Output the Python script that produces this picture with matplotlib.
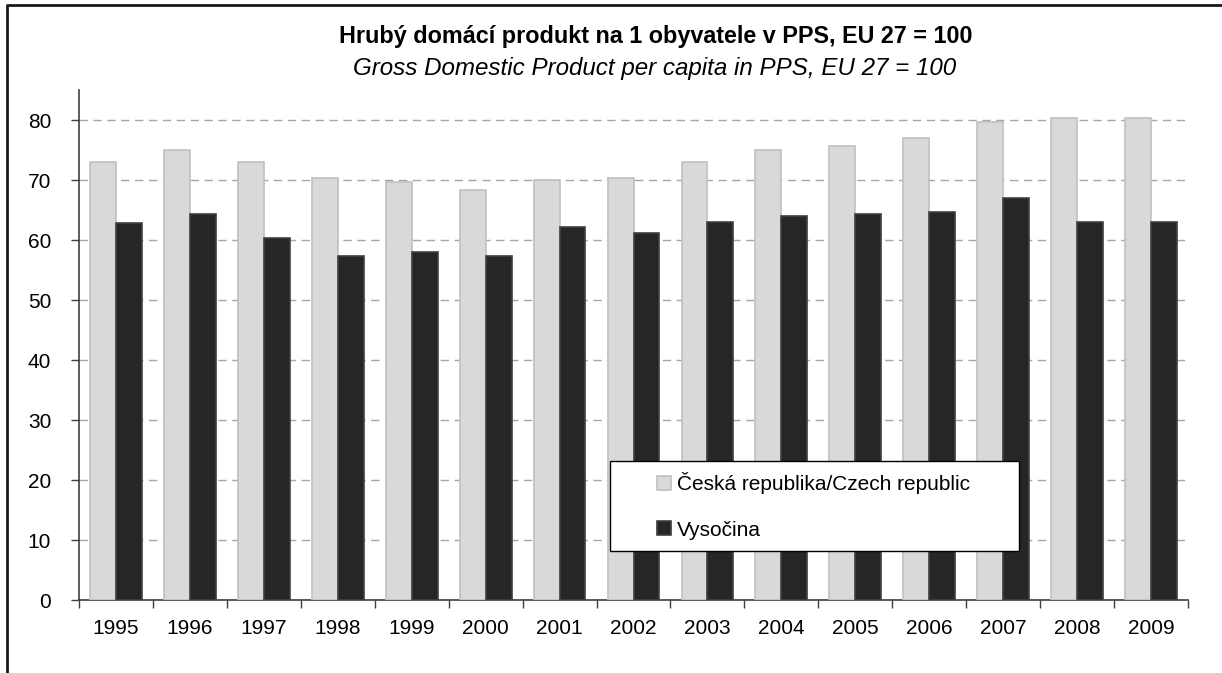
import matplotlib
matplotlib.use("Agg")
import matplotlib.pyplot as plt
import numpy as np
from matplotlib.lines import Line2D
from matplotlib.patches import Rectangle
from matplotlib.legend_handler import HandlerPatch

plt.rcParams['font.family'] = ['Liberation Sans', 'DejaVu Sans']

years = ["1995", "1996", "1997", "1998", "1999", "2000", "2001", "2002",
         "2003", "2004", "2005", "2006", "2007", "2008", "2009"]
cz = [73.0, 75.0, 73.0, 70.3, 69.7, 68.3, 70.0, 70.3, 73.0, 75.0, 75.7, 77.0, 79.7, 80.4, 80.4]
vys = [62.8, 64.4, 60.4, 57.4, 58.0, 57.4, 62.1, 61.1, 63.0, 64.0, 64.4, 64.7, 67.0, 63.0, 63.0]
label_cz = "Česká republika/Czech republic"
label_vys = "Vysočina"
title = "Hrubý domácí produkt na 1 obyvatele v PPS, EU 27 = 100"
subtitle = "Gross Domestic Product per capita in PPS, EU 27 = 100"

W, H = 1222, 673
fig = plt.figure(figsize=(W / 100, H / 100), dpi=100)
ax = fig.add_axes([79 / W, 1 - 600 / H, (1188 - 79) / W, (600 - 90) / H])

x = np.arange(len(years))
bw = 0.35
b1 = ax.bar(x - bw / 2, cz, bw, color="#d9d9d9", edgecolor="#c0c0c0", linewidth=1.2,
            label=label_cz, zorder=3)
b2 = ax.bar(x + bw / 2, vys, bw, color="#262626", edgecolor="#404040", linewidth=1.2,
            label=label_vys, zorder=3)

ax.set_xlim(-0.5, len(years) - 0.5)
ax.set_ylim(0, 85)
ax.set_yticks(range(0, 81, 10))
ax.yaxis.grid(True, linestyle=(0, (6, 4)), color="#a6a6a6", linewidth=1.0, zorder=0)
ax.set_xticks(x)
ax.set_xticklabels(years)
ax.set_xticks(np.arange(-0.5, len(years), 1), minor=True)
ax.tick_params(axis="x", which="major", length=0, pad=14, labelsize=15)
ax.tick_params(axis="x", which="minor", length=6, width=1, color="#404040")
ax.tick_params(axis="y", length=6, width=1, color="#404040", pad=14, labelsize=15)
for s in ["top", "right"]:
    ax.spines[s].set_visible(False)
for s in ["left", "bottom"]:
    ax.spines[s].set_color("#404040")
    ax.spines[s].set_linewidth(1.2)


def square(legend, orig_handle, xdescent, ydescent, width, height, fontsize):
    s = 14 * 72 / 100
    return Rectangle((-xdescent + width - s, -ydescent + (height - s) / 2), s, s)


fs = 15
leg = ax.legend(handles=[b1.patches[0], b2.patches[0]], labels=[label_cz, label_vys],
                loc="upper left",
                bbox_to_anchor=((610 - 79) / (1188 - 79), (600 - 461) / (600 - 90),
                                (1019 - 610) / (1188 - 79), 0),
                mode="expand", fontsize=fs, frameon=True, fancybox=False,
                edgecolor="#000000", framealpha=1, handlelength=2.38, handleheight=0.75,
                handletextpad=0.29, labelspacing=1.25, borderpad=0.55, borderaxespad=0,
                handler_map={Rectangle: HandlerPatch(patch_func=square)})
leg.get_frame().set_linewidth(1.0)
leg.set_zorder(5)

fig.text(656 / W, 1 - 43 / H, title, ha="center", va="baseline", fontsize=16.8, fontweight="bold")
fig.text(655 / W, 1 - 75 / H, subtitle, ha="center", va="baseline", fontsize=17.4, style="italic")

fig.add_artist(Line2D([7 / W, 7 / W, 1.0], [0.0, 1 - 5 / H, 1 - 5 / H],
                      transform=fig.transFigure, color="#1a1a1a", linewidth=2))

fig.savefig("out.png", dpi=100)
